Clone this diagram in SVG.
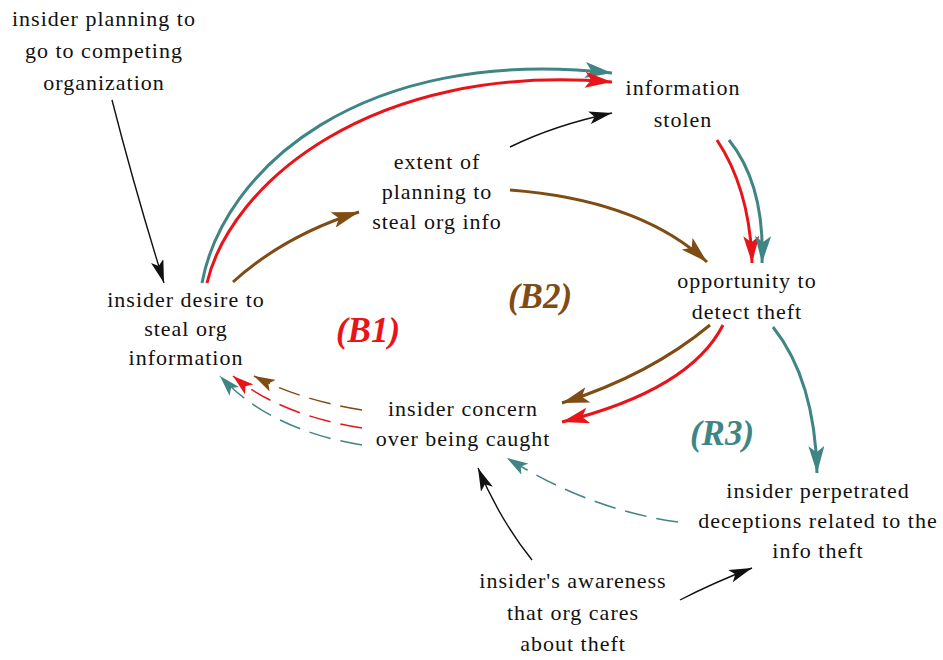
<svg xmlns="http://www.w3.org/2000/svg" width="943" height="660" viewBox="0 0 943 660">
<style>
text{font-family:"Liberation Serif","Times New Roman",serif;font-size:22px;letter-spacing:1px;fill:#111;text-anchor:middle}
.loop{font-size:35px;font-weight:bold;font-style:italic;letter-spacing:0}
.k{fill:none;stroke:#111;stroke-width:1.4}
.r{fill:none;stroke:#e8141a;stroke-width:3}
.b{fill:none;stroke:#7f4c14;stroke-width:3}
.t{fill:none;stroke:#3f8584;stroke-width:3}
.d{stroke-width:1.5;stroke-dasharray:22,10}
</style>
<defs>
<marker id="ak" viewBox="0 0 22 14" refX="22" refY="7" markerWidth="23" markerHeight="13" markerUnits="userSpaceOnUse" orient="auto" preserveAspectRatio="none"><path d="M0,0 L22,7 L0,14 L5,7 z" fill="#111"/></marker>
<marker id="ar" viewBox="0 0 22 14" refX="22" refY="7" markerWidth="27" markerHeight="16" markerUnits="userSpaceOnUse" orient="auto" preserveAspectRatio="none"><path d="M0,0 L22,7 L0,14 L5,7 z" fill="#e8141a"/></marker>
<marker id="ab" viewBox="0 0 22 14" refX="22" refY="7" markerWidth="27" markerHeight="16" markerUnits="userSpaceOnUse" orient="auto" preserveAspectRatio="none"><path d="M0,0 L22,7 L0,14 L5,7 z" fill="#7f4c14"/></marker>
<marker id="at" viewBox="0 0 22 14" refX="22" refY="7" markerWidth="27" markerHeight="16" markerUnits="userSpaceOnUse" orient="auto" preserveAspectRatio="none"><path d="M0,0 L22,7 L0,14 L5,7 z" fill="#3f8584"/></marker>
<marker id="ard" viewBox="0 0 22 14" refX="22" refY="7" markerWidth="21" markerHeight="13" markerUnits="userSpaceOnUse" orient="auto" preserveAspectRatio="none"><path d="M0,0 L22,7 L0,14 L5,7 z" fill="#e8141a"/></marker>
<marker id="abd" viewBox="0 0 22 14" refX="22" refY="7" markerWidth="21" markerHeight="13" markerUnits="userSpaceOnUse" orient="auto" preserveAspectRatio="none"><path d="M0,0 L22,7 L0,14 L5,7 z" fill="#7f4c14"/></marker>
<marker id="atd" viewBox="0 0 22 14" refX="22" refY="7" markerWidth="21" markerHeight="13" markerUnits="userSpaceOnUse" orient="auto" preserveAspectRatio="none"><path d="M0,0 L22,7 L0,14 L5,7 z" fill="#3f8584"/></marker>
</defs>
<rect width="943" height="660" fill="#fff"/>
<g id="connectors">
<path class="k" d="M112,100 Q135,190 164,283" marker-end="url(#ak)"/>
<path class="t" d="M202,283 C223,170 360,45 612,73" marker-end="url(#at)"/>
<path class="r" d="M207,283 C230,185 370,62 612,82" marker-end="url(#ar)"/>
<path class="b" d="M233,282 Q285,235 359,212" marker-end="url(#ab)"/>
<path class="k" d="M510,147 Q555,125 612,113" marker-end="url(#ak)"/>
<path class="b" d="M510,190 Q640,200 707,262" marker-end="url(#ab)"/>
<path class="r" d="M717,140 Q750,190 752,263" marker-end="url(#ar)"/>
<path class="t" d="M729,140 Q765,185 762,263" marker-end="url(#at)"/>
<path class="b" d="M710,325 Q650,375 562,403" marker-end="url(#ab)"/>
<path class="r" d="M723,325 Q690,390 562,422" marker-end="url(#ar)"/>
<path class="t" d="M773,327 Q815,380 817,473" marker-end="url(#at)"/>
<path class="b d" d="M362,410 Q300,400 254,376" marker-end="url(#abd)"/>
<path class="r d" d="M362,428 Q280,415 233,376" marker-end="url(#ard)"/>
<path class="t d" d="M362,445 Q270,430 220,376" marker-end="url(#atd)"/>
<path class="t d" d="M678,522 Q590,510 507,458" marker-end="url(#atd)"/>
<path class="k" d="M532,560 Q500,520 478,468" marker-end="url(#ak)"/>
<path class="k" d="M680,600 Q715,582 752,568" marker-end="url(#ak)"/>
</g>
<g id="n-planning"><text x="104" y="26"><tspan x="104">insider planning to</tspan><tspan x="104" dy="32">go to competing</tspan><tspan x="104" dy="32">organization</tspan></text></g>
<g id="n-desire"><text x="186" y="307"><tspan x="186">insider desire to</tspan><tspan x="186" dy="29">steal org</tspan><tspan x="186" dy="29">information</tspan></text></g>
<g id="n-extent"><text x="437" y="169"><tspan x="437">extent of</tspan><tspan x="437" dy="30">planning to</tspan><tspan x="437" dy="30">steal org info</tspan></text></g>
<g id="n-stolen"><text x="683" y="95"><tspan x="683">information</tspan><tspan x="683" dy="32">stolen</tspan></text></g>
<g id="n-opportunity"><text x="747" y="288"><tspan x="747">opportunity to</tspan><tspan x="747" dy="31">detect theft</tspan></text></g>
<g id="n-concern"><text x="463" y="416"><tspan x="463">insider concern</tspan><tspan x="463" dy="30">over being caught</tspan></text></g>
<g id="n-deceptions"><text x="818" y="498"><tspan x="818">insider perpetrated</tspan><tspan x="818" dy="30">deceptions related to the</tspan><tspan x="818" dy="30">info theft</tspan></text></g>
<g id="n-awareness"><text x="573" y="588"><tspan x="573">insider's awareness</tspan><tspan x="573" dy="32">that org cares</tspan><tspan x="573" dy="31">about theft</tspan></text></g>
<g id="loops">
<text class="loop" x="368" y="342" style="fill:#e8141a">(B1)</text>
<text class="loop" x="540" y="308" style="fill:#7f4c14">(B2)</text>
<text class="loop" x="722" y="445" style="fill:#3f8584">(R3)</text>
</g>
</svg>
